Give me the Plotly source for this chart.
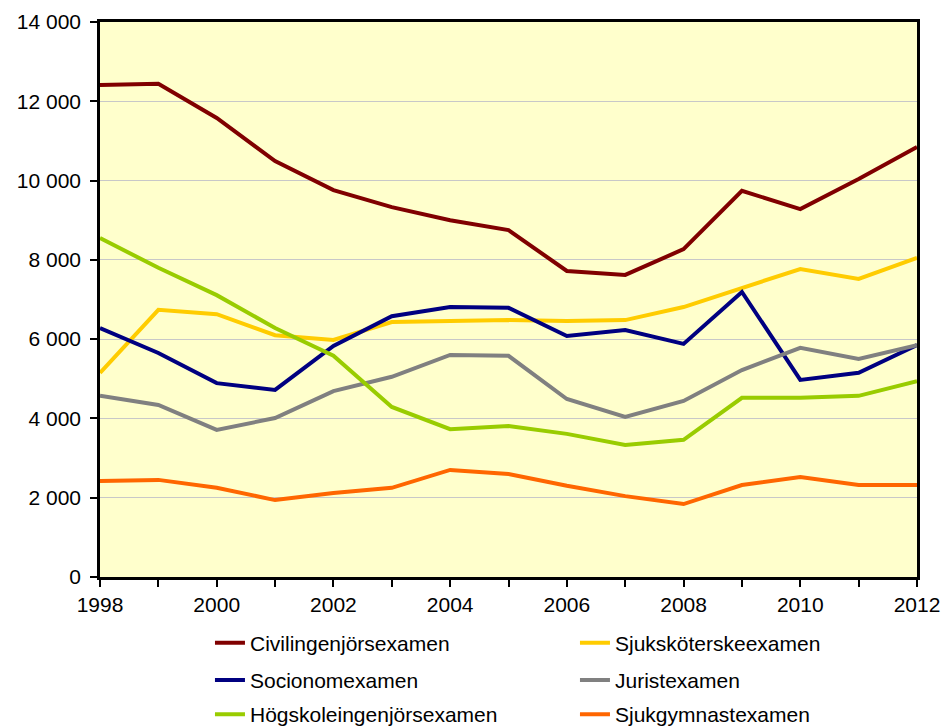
import plotly.graph_objects as go

years = list(range(1998, 2013))

civilingenjor = [12410, 12440, 11580, 10490, 9760, 9330, 9000, 8750, 7720, 7620, 8270, 9740, 9280, 10040, 10850]
sjukskoterske = [5150, 6740, 6630, 6100, 5980, 6430, 6460, 6480, 6460, 6480, 6810, 7290, 7770, 7520, 8050]
socionom = [6280, 5650, 4890, 4720, 5830, 6580, 6810, 6790, 6080, 6230, 5880, 7190, 4970, 5150, 5850]
jurist = [4570, 4340, 3710, 4010, 4690, 5050, 5600, 5580, 4490, 4040, 4440, 5220, 5780, 5500, 5850]
hogskoleingenjor = [8550, 7800, 7110, 6280, 5580, 4290, 3730, 3810, 3610, 3330, 3460, 4520, 4520, 4570, 4940]
sjukgymnast = [2420, 2450, 2250, 1940, 2120, 2250, 2700, 2600, 2300, 2040, 1840, 2320, 2520, 2320, 2320]

names = ["Civilingenjörsexamen", "Sjuksköterskeexamen", "Socionomexamen",
         "Juristexamen", "Högskoleingenjörsexamen", "Sjukgymnastexamen"]
series = [civilingenjor, sjukskoterske, socionom, jurist, hogskoleingenjor, sjukgymnast]
colors = ["#800000", "#FFCC00", "#000080", "#808080", "#99CC00", "#FF6600"]
legend_ids = ["legend", "legend", "legend2", "legend2", "legend3", "legend3"]

y_ticks = [0, 2000, 4000, 6000, 8000, 10000, 12000, 14000]
x_ticks = [1998, 2000, 2002, 2004, 2006, 2008, 2010, 2012]

fig = go.Figure()
for name, vals, col, lg in zip(names, series, colors, legend_ids):
    fig.add_trace(go.Scatter(x=years, y=vals, name=name, mode="lines",
                             line=dict(color=col, width=4), legend=lg))

font = dict(family="Liberation Sans, Arial, sans-serif", size=21, color="#000000")

def leg(y):
    return dict(orientation="h", x=0.1346, xanchor="left", y=y, yanchor="middle",
                entrywidth=320, entrywidthmode="pixels", font=font,
                bgcolor="rgba(0,0,0,0)", itemclick=False, traceorder="normal")

fig.update_layout(
    width=949, height=726,
    margin=dict(l=100, r=32, t=22, b=149, autoexpand=False),
    paper_bgcolor="#FFFFFF",
    plot_bgcolor="#FFFFCC",
    separators=", ",
    font=font,
    showlegend=True,
    legend=leg(-0.119),
    legend2=leg(-0.186),
    legend3=leg(-0.248),
)
fig.update_xaxes(range=[1998, 2012], tickvals=x_ticks, ticks="outside", ticklen=7,
                 tickwidth=1.5, tickcolor="#000000", showgrid=False, zeroline=False,
                 showline=True, linecolor="#000000", linewidth=2.5, mirror=True,
                 automargin=False,
                 minor=dict(dtick=1, tick0=1998, ticks="outside", ticklen=7,
                            tickwidth=1.5, tickcolor="#000000", showgrid=False),
                 tickfont=font)
fig.update_yaxes(range=[0, 14000], tickvals=y_ticks, tickformat=",d", ticks="outside",
                 ticklen=7, tickwidth=1.5, tickcolor="#000000", showgrid=True,
                 gridcolor="#C8C8C8", gridwidth=1, zeroline=False,
                 showline=True, linecolor="#000000", linewidth=2.5, mirror=True,
                 automargin=False, ticklabelstandoff=5, tickfont=font)

fig.write_html("out.html", config={"displayModeBar": False},
               post_script="document.body.style.margin='0';document.body.style.overflow='hidden';")
